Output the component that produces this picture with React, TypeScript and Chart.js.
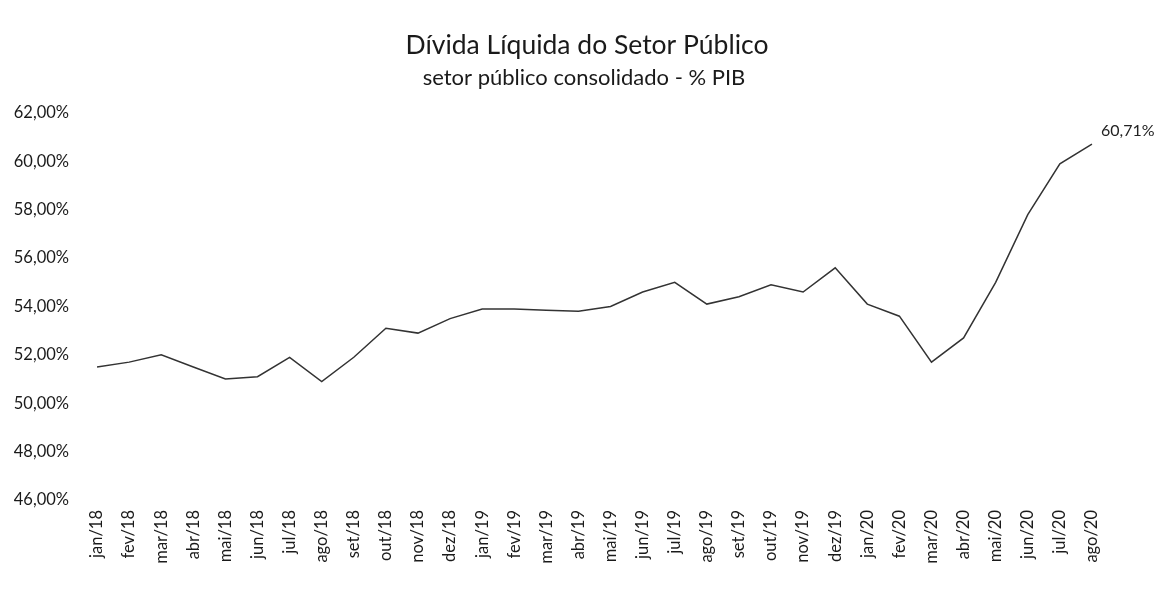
import React, { useEffect, useRef } from "react";
import { Chart, registerables } from "chart.js";

Chart.register(...registerables);

const categories = [
  "jan/18", "fev/18", "mar/18", "abr/18", "mai/18", "jun/18", "jul/18", "ago/18",
  "set/18", "out/18", "nov/18", "dez/18", "jan/19", "fev/19", "mar/19", "abr/19",
  "mai/19", "jun/19", "jul/19", "ago/19", "set/19", "out/19", "nov/19", "dez/19",
  "jan/20", "fev/20", "mar/20", "abr/20", "mai/20", "jun/20", "jul/20", "ago/20",
];

const dividaLiquida = [
  51.5, 51.7, 52.0, 51.5, 51.0, 51.1, 51.9, 50.9,
  51.9, 53.1, 52.9, 53.5, 53.9, 53.9, 53.85, 53.8,
  54.0, 54.6, 55.0, 54.1, 54.4, 54.9, 54.6, 55.6,
  54.1, 53.6, 51.7, 52.7, 55.0, 57.8, 59.9, 60.71,
];

const yMin = 46;
const yMax = 62;
const yStep = 2;

const titleText = "Dívida Líquida do Setor Público";
const subtitleText = "setor público consolidado - % PIB";

const fmt = (v: number) => v.toFixed(2).replace(".", ",") + "%";

const FONT = "Lato, 'Open Sans', sans-serif";

const titlesPlugin = {
  id: "titles",
  afterDraw(chart: any) {
    const ctx = chart.ctx;
    ctx.save();
    ctx.fillStyle = "#1a1a1a";
    ctx.textAlign = "center";
    ctx.textBaseline = "middle";
    ctx.font = `26.5px ${FONT}`;
    ctx.fillText(titleText, 587, 45);
    ctx.font = `22px ${FONT}`;
    ctx.fillText(subtitleText, 584, 78);
    ctx.restore();
  },
};

const lastLabelPlugin = {
  id: "lastLabel",
  afterDatasetsDraw(chart: any) {
    const meta = chart.getDatasetMeta(0);
    const pts = meta.data;
    if (!pts || !pts.length) return;
    const p = pts[pts.length - 1];
    const ctx = chart.ctx;
    ctx.save();
    ctx.font = `16px ${FONT}`;
    ctx.fillStyle = "#222";
    ctx.textAlign = "left";
    ctx.textBaseline = "middle";
    ctx.fillText(fmt(dividaLiquida[dividaLiquida.length - 1]), p.x + 9, p.y - 13);
    ctx.restore();
  },
};

export default function App() {
  const ref = useRef<HTMLCanvasElement | null>(null);

  useEffect(() => {
    if (!ref.current) return;
    const chart = new Chart(ref.current, {
      type: "line",
      data: {
        labels: categories,
        datasets: [
          {
            data: dividaLiquida,
            borderColor: "#333333",
            borderWidth: 1.5,
            pointRadius: 0,
            tension: 0,
            fill: false,
          },
        ],
      },
      options: {
        animation: false,
        responsive: false,
        devicePixelRatio: 1,
        layout: { padding: { left: 0, right: 50, top: 113, bottom: 0 } },
        plugins: {
          legend: { display: false },
          tooltip: { enabled: false },
          title: { display: false },
          subtitle: { display: false },
        },
        scales: {
          x: {
            offset: true,
            grid: { display: false, drawTicks: false },
            border: { display: false },
            ticks: {
              autoSkip: false,
              minRotation: 90,
              maxRotation: 90,
              padding: 10,
              color: "#1a1a1a",
              font: { family: FONT, size: 16.5 },
            },
            afterFit(scale: any) {
              scale.height = 89;
            },
          },
          y: {
            min: yMin,
            max: yMax,
            grid: { display: false, drawTicks: false },
            border: { display: false },
            ticks: {
              stepSize: yStep,
              padding: 12,
              color: "#1a1a1a",
              font: { family: FONT, size: 16.5 },
              callback: (v: any) => fmt(Number(v)),
            },
            afterFit(scale: any) {
              scale.width = 81;
            },
          },
        },
      },
      plugins: [lastLabelPlugin, titlesPlugin],
    });
    return () => chart.destroy();
  }, []);

  return (
    <div style={{ position: "absolute", left: 0, top: 0, width: 1158, height: 589, background: "#fff" }}>
      <canvas ref={ref} width={1158} height={589} style={{ width: 1158, height: 589 }} />
    </div>
  );
}
